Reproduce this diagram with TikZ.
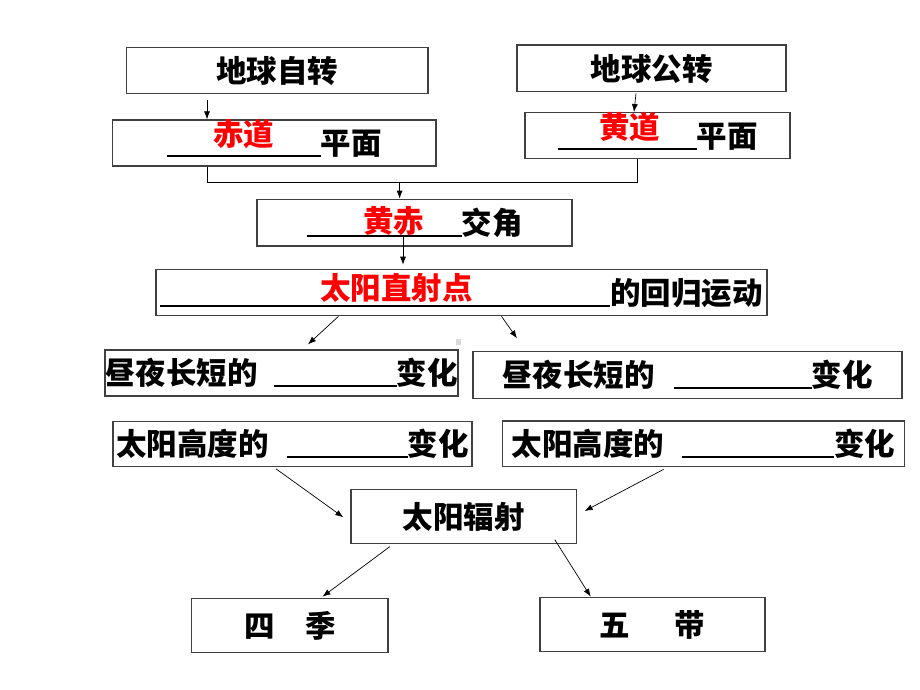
\documentclass[tikz,border=0pt]{standalone}
\usepackage{fontspec}
\newfontfamily\cjk{Noto Sans CJK SC}
\usetikzlibrary{arrows.meta}

\tikzset{
  box/.style={draw=black!75, line width=1.3pt, inner sep=0pt,
    text height=27pt, text depth=3.5pt,
    font=\cjk\bfseries\fontsize{30.5}{32}\selectfont},
  arr/.style={-{Latex[length=8pt,width=6pt]}, line width=0.7pt}
}
% blank with answer: width, shift, raise, text
\newcommand\blank[4]{\makebox[#1]{\rlap{\rule[-2.3pt]{#1}{1.8pt}}\hfill\kern#2\raisebox{#3}{\textcolor{red}{#4}}\kern-#2\hfill}}
\newcommand\gap[1]{\rule[-2.3pt]{#1}{1.8pt}}

\begin{document}
\begin{tikzpicture}[x=1pt,y=-1pt]
  \useasboundingbox (0,0) rectangle (920,690);
  % Nodes
  % rotation and revolution
  \node[box, minimum width=301.3pt, minimum height=46pt] (zq) at (277.35,70.3) {地球自转};
  \node[box, minimum width=269pt, minimum height=46.7pt] (gz) at (651.5,68.35) {地球公转};
  \node[box, minimum width=323.3pt, minimum height=46pt] (cd) at (274.35,143) {\blank{154pt}{0pt}{9pt}{赤道}平面};
  \node[box, minimum width=265pt, minimum height=45.6pt] (hd) at (657.5,135.5) {\blank{139pt}{2.5pt}{8.3pt}{黄道}平面};
  \node[box, minimum width=315pt, minimum height=46.7pt] (hj) at (414.5,222.65) {\blank{155pt}{9.5pt}{1.5pt}{黄赤}交角};
  \node[box, minimum width=611pt, minimum height=46.4pt] (zsd) at (461.5,292.5) {\blank{450pt}{11pt}{5pt}{太阳直射点}的回归运动};
  % consequences
  \node[box, minimum width=353pt, minimum height=46pt] (zy1) at (281.5,373) {昼夜长短的\hspace{16pt}\gap{123pt}变化};
  \node[box, minimum width=429pt, minimum height=46.6pt] (zy2) at (687.5,375) {昼夜长短的\hspace{19pt}\gap{138pt}变化};
  \node[box, minimum width=359pt, minimum height=45pt] (ty1) at (292.5,444.2) {太阳高度的\hspace{18pt}\gap{121pt}变化};
  \node[box, minimum width=402pt, minimum height=45.7pt] (ty2) at (703.65,443.85) {太阳高度的\hspace{18pt}\gap{152pt}变化};
  \node[box, minimum width=225.6pt, minimum height=54pt] (fs) at (463.8,516.3) {太阳辐射};
  \node[box, minimum width=196.5pt, minimum height=54pt] (sj) at (289.75,625.3) {四\hspace{1em}季};
  \node[box, minimum width=225pt, minimum height=54.4pt] (wd) at (652.5,624.5) {五\hspace{1.45em}带};
  \fill[black!15] (456,339) rectangle (461,345);

  % edges
  \coordinate (a1) at ([xshift=-70.35pt,yshift=-6pt]zq.south);
  \draw[arr] (a1) -- (a1 |- cd.north);
  \draw[arr] ([xshift=-15.5pt,yshift=-1pt]gz.south) -- ([xshift=-23.5pt]hd.north);
  \draw[line width=0.7pt] ([xshift=-67.35pt]cd.south) -- ++(0,16) coordinate (b1) -| ([xshift=-20.5pt]hd.south);
  \path (b1) -- ++(192.6,0) coordinate (jn);
  \draw[arr] (jn) -- (jn |- hj.north);
  \coordinate (c1) at ([xshift=-11.5pt,yshift=9.3pt]hj.south);
  \draw[arr] (c1) -- ([xshift=-58.5pt,yshift=4pt]zsd.north);
  \draw[arr] ([xshift=-123pt]zsd.south) -- ([xshift=26.5pt,yshift=5pt]zy1.north);
  \draw[arr] ([xshift=40pt]zsd.south) -- ([xshift=-170.5pt,yshift=12.7pt]zy2.north);
  \draw[arr] ([xshift=-16.5pt,yshift=-1.5pt]ty1.south) -- ([xshift=-7pt,yshift=-1pt]fs.west);
  \draw[arr] ([xshift=-40pt,yshift=-2pt]ty2.south) -- ([xshift=7.4pt,yshift=5.3pt]fs.east);
  \draw[arr] ([xshift=-74pt,yshift=-2.7pt]fs.south) -- ([xshift=32.75pt,yshift=1pt]sj.north);
  \draw[arr] ([xshift=91pt,yshift=4.3pt]fs.south) -- ([xshift=-61.8pt]wd.north);
\end{tikzpicture}
\end{document}
